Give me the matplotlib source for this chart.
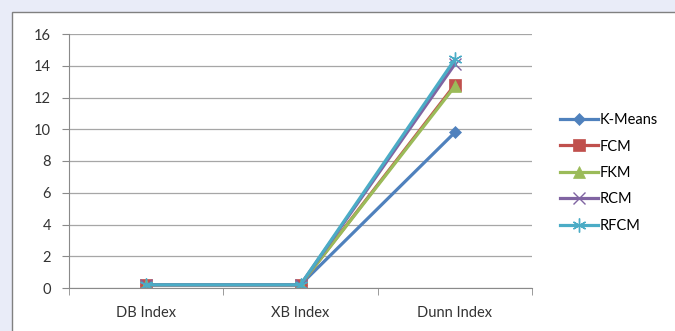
import matplotlib.pyplot as plt
import matplotlib.patches as patches

categories = ['DB Index', 'XB Index', 'Dunn Index']
kmeans = [0.2, 0.2, 9.8]
fcm = [0.2, 0.2, 12.8]
fkm = [0.2, 0.2, 12.7]
rcm = [0.2, 0.2, 14.1]
rfcm = [0.2, 0.2, 14.4]

series = [
    ('K-Means', kmeans, '#4F81BD', 'D', 6),
    ('FCM', fcm, '#C0504D', 's', 8),
    ('FKM', fkm, '#9BBB59', '^', 8),
    ('RCM', rcm, '#8064A2', 'x', 9),
    ('RFCM', rfcm, '#4BACC6', (6, 2, 0), 10),
]

plt.rcParams['font.family'] = ['Lato', 'DejaVu Sans']

fig = plt.figure(figsize=(6.75, 3.31), dpi=100, facecolor='#e9ecf8')
# white chart frame, behind the axes
frame = patches.Rectangle((12 / 675, -0.05), 1.0, (331 - 12) / 331 + 0.05,
                          transform=fig.transFigure, facecolor='white',
                          edgecolor='#808080', linewidth=1.0, zorder=-1)
fig.patches.append(frame)

ax = fig.add_axes([69 / 675, 43 / 331, 463 / 675, 254 / 331])
ax.set_facecolor('white')

x = [0.5, 1.5, 2.5]
for name, vals, color, marker, ms in series:
    thin = marker == 'x' or isinstance(marker, tuple)
    ax.plot(x, vals, color=color, linewidth=2.3, marker=marker, markersize=ms,
            markeredgewidth=1.0 if thin else 0.5,
            markeredgecolor=color, label=name)

ax.set_xlim(0, 3)
ax.set_ylim(0, 16)
ax.set_yticks(range(0, 17, 2))
ax.set_xticks(x)
ax.set_xticklabels(categories)
ax.set_xticks([0, 1, 2, 3], minor=True)
ax.tick_params(axis='x', which='major', length=0, pad=13, labelsize=10.5, colors='#333333')
ax.tick_params(axis='x', which='minor', length=5, color='#8a8a8a')
ax.tick_params(axis='y', length=5, color='#8a8a8a', labelsize=10.5, labelcolor='#333333', pad=8)
ax.yaxis.grid(True, color='#a6a6a6', linewidth=0.9)
ax.set_axisbelow(True)
for s in ['top', 'right']:
    ax.spines[s].set_visible(False)
ax.spines['left'].set_color('#8a8a8a')
ax.spines['bottom'].set_color('#8a8a8a')

ax.legend(loc='center left', bbox_to_anchor=(560 / 675, 158 / 331), bbox_transform=fig.transFigure,
          frameon=False, fontsize=10.5, handlelength=2.6, labelspacing=0.85, handletextpad=0.15,
          borderaxespad=0, borderpad=0)

fig.savefig('out.png', dpi=100, facecolor=fig.get_facecolor())
